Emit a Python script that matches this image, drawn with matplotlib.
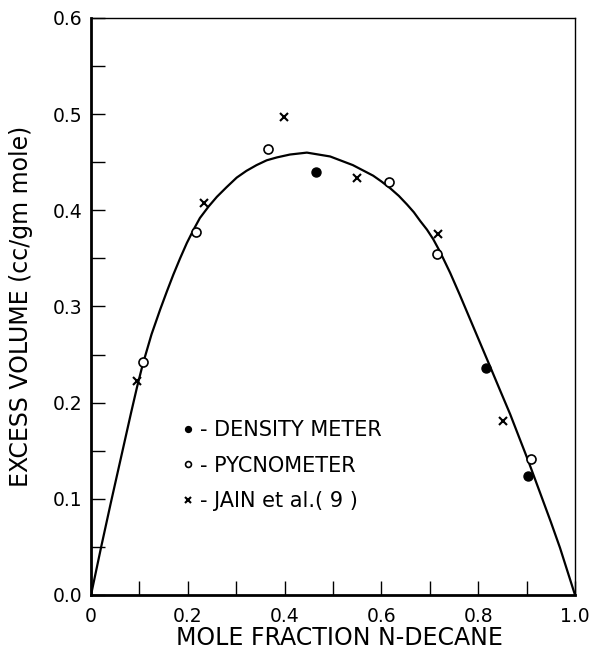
import matplotlib
matplotlib.use('Agg')
import matplotlib.pyplot as plt
from matplotlib.ticker import MultipleLocator

# data
dens_x = [0.465, 0.816, 0.903]
dens_y = [0.440, 0.236, 0.124]

pyc_x = [0.107, 0.217, 0.366, 0.616, 0.715, 0.909]
pyc_y = [0.242, 0.377, 0.464, 0.429, 0.355, 0.141]

jain_x = [0.095, 0.233, 0.399, 0.549, 0.716, 0.851]
jain_y = [0.223, 0.408, 0.497, 0.434, 0.375, 0.181]

# fitted curve, traced point by point
curve_x = [0.0, 0.021, 0.041, 0.062, 0.083, 0.095, 0.107, 0.125, 0.143, 0.157,
           0.170, 0.184, 0.198, 0.212, 0.225, 0.243, 0.260, 0.280, 0.301, 0.321,
           0.342, 0.363, 0.384, 0.411, 0.446, 0.494, 0.541, 0.583, 0.600, 0.618,
           0.636, 0.653, 0.667, 0.680, 0.694, 0.707, 0.721, 0.742, 0.762, 0.783,
           0.804, 0.825, 0.845, 0.866, 0.886, 0.903, 0.928, 0.950, 0.969, 1.0]
curve_y = [0.0, 0.050, 0.096, 0.143, 0.190, 0.216, 0.240, 0.271, 0.297, 0.316,
           0.333, 0.350, 0.366, 0.380, 0.392, 0.404, 0.414, 0.424, 0.434, 0.441,
           0.447, 0.452, 0.455, 0.458, 0.460, 0.456, 0.447, 0.436, 0.430, 0.423,
           0.415, 0.406, 0.398, 0.389, 0.380, 0.370, 0.357, 0.335, 0.312, 0.287,
           0.262, 0.237, 0.213, 0.188, 0.162, 0.140, 0.106, 0.076, 0.049, 0.0]

xticks = [0, 0.2, 0.4, 0.6, 0.8, 1.0]
xticklabels = ['0', '0.2', '0.4', '0.6', '0.8', '1.0']
yticks = [0.0, 0.1, 0.2, 0.3, 0.4, 0.5, 0.6]
yticklabels = ['0.0', '0.1', '0.2', '0.3', '0.4', '0.5', '0.6']

plt.rcParams['font.family'] = ['DejaVu Sans']

fig = plt.figure(figsize=(5.96, 6.56), dpi=100)
ax = fig.add_axes([0.1527, 0.093, 0.8121, 0.8796])

ax.plot(curve_x, curve_y, color='black', lw=1.6, solid_joinstyle='round',
        solid_capstyle='round')
ax.plot(dens_x, dens_y, 'o', ms=6.5, mfc='black', mec='black', ls='none',
        label='- DENSITY METER')
ax.plot(pyc_x, pyc_y, 'o', ms=6.5, mfc='white', mec='black', mew=1.2, ls='none',
        label='- PYCNOMETER')
ax.plot(jain_x, jain_y, 'x', ms=6, color='black', mew=1.5, ls='none',
        label='- JAIN et al.( 9 )')

ax.set_xlim(0, 1.0)
ax.set_ylim(0, 0.6)
ax.set_xticks(xticks)
ax.set_xticklabels(xticklabels)
ax.set_yticks(yticks)
ax.set_yticklabels(yticklabels)
ax.xaxis.set_minor_locator(MultipleLocator(0.1))
ax.yaxis.set_minor_locator(MultipleLocator(0.05))
ax.tick_params(which='both', direction='in', length=10, width=1,
               top=False, right=False, labelsize=13.5)
ax.tick_params(axis='x', pad=9)
ax.tick_params(axis='y', pad=6)

for s in ['left', 'bottom']:
    ax.spines[s].set_linewidth(2)
for s in ['top', 'right']:
    ax.spines[s].set_linewidth(1)

ax.set_xlabel('MOLE FRACTION N-DECANE', fontsize=17)
ax.xaxis.set_label_coords(0.514, -0.054, transform=ax.transAxes)
ax.xaxis.label.set_va('top')
ax.set_ylabel('EXCESS VOLUME (cc/gm mole)', fontsize=17, labelpad=14)

leg = ax.legend(loc='upper left', bbox_to_anchor=(0.17, 0.317), frameon=False,
                fontsize=15, handlelength=0.6, handletextpad=0.3,
                labelspacing=0.73, markerscale=0.65, borderaxespad=0)

fig.savefig('out.png', dpi=100)
